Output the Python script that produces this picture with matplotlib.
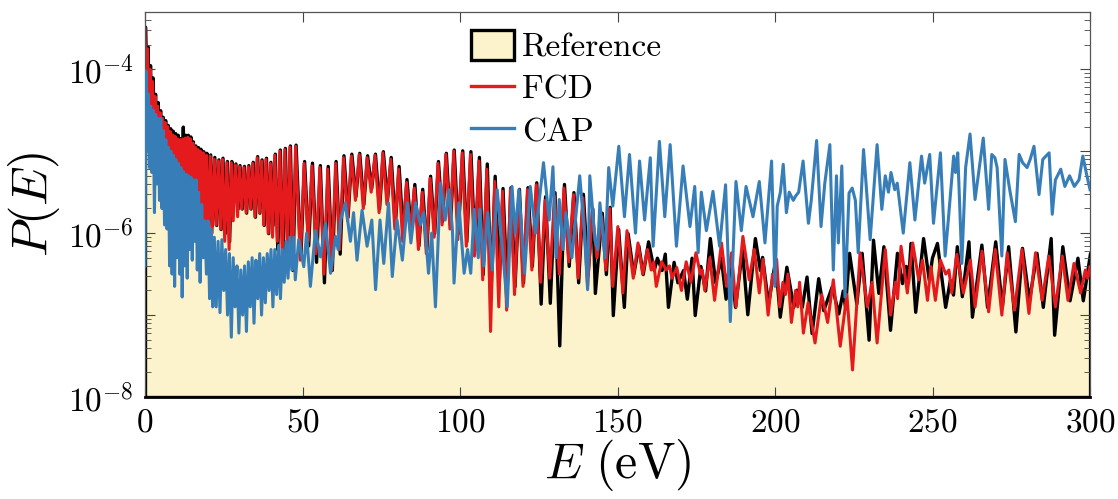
import numpy as np
import matplotlib as mpl
import matplotlib.pyplot as plt
from matplotlib.patches import Patch
from matplotlib.lines import Line2D
from matplotlib.ticker import FixedLocator, LogLocator, FixedFormatter

# computer modern look
mpl.rcParams['mathtext.fontset'] = 'cm'
mpl.rcParams['font.family'] = 'serif'
mpl.rcParams['font.serif'] = ['cmr10']
mpl.rcParams['axes.unicode_minus'] = False

# (energy in eV, log10 P(E)), one list per curve
ref_points = [
    (0.0, -3.48), (0.4, -4.25), (0.8, -3.72), (1.2, -4.45), (1.6, -3.95), (2.0, -4.6), (2.4, -4.1), (2.8, -4.7),
    (3.2, -4.3), (3.6, -4.85), (4.0, -4.4), (4.4, -5.0), (4.8, -4.5), (5.2, -5.1), (5.6, -4.58), (6.0, -5.2),
    (6.4, -4.62), (6.8, -5.3), (7.2, -4.68), (7.6, -5.4), (8.0, -4.72), (8.4, -5.6), (8.8, -4.75), (9.2, -5.5),
    (9.6, -4.78), (10.0, -5.6), (10.4, -4.8), (10.8, -5.1), (11.2, -4.84), (11.6, -5.2), (12.0, -4.7), (12.4, -5.3),
    (12.8, -4.8), (13.2, -5.7), (13.6, -4.8), (14.0, -5.8), (14.4, -4.82), (14.8, -5.7), (15.2, -4.88), (15.6, -5.9),
    (16.0, -4.93), (16.5, -6.08), (16.8, -4.95), (17.2, -6.0), (17.6, -4.97), (18.0, -6.1), (18.5, -5.0), (19.0, -5.95),
    (19.5, -5.02), (20.0, -6.0), (20.7, -5.04), (21.3, -5.9), (22.0, -5.07), (22.6, -5.9), (23.3, -5.1), (24.0, -5.95),
    (24.6, -5.08), (25.3, -6.0), (26.0, -5.12), (26.7, -6.1), (27.4, -5.12), (28.0, -5.6), (28.7, -5.15), (29.4, -5.7),
    (30.0, -5.17), (30.7, -5.7), (31.4, -5.18), (32.1, -5.75), (32.8, -5.17), (33.5, -5.7), (34.2, -5.13), (34.9, -5.8),
    (35.6, -5.06), (36.3, -5.75), (37.0, -5.1), (37.7, -5.9), (38.4, -5.08), (39.1, -6.0), (39.8, -5.13), (40.5, -5.9),
    (41.2, -5.03), (42.0, -6.2), (42.8, -4.98), (43.6, -6.3), (44.4, -4.96), (45.2, -6.2), (46.0, -4.93), (46.8, -6.45),
    (47.8, -4.92), (49.3, -6.3), (50.5, -5.12), (51.8, -6.15), (53.0, -5.14), (54.3, -6.35), (55.5, -5.17), (56.8, -6.6),
    (58.0, -5.18), (59.3, -6.45), (60.5, -5.12), (61.8, -6.25), (63.0, -5.05), (64.3, -5.8), (65.5, -5.03), (66.8, -5.55),
    (68.0, -5.02), (69.3, -5.65), (70.5, -5.05), (71.8, -5.45), (73.0, -5.03), (74.3, -5.7), (75.5, -5.0), (76.8, -5.6),
    (78.0, -5.07), (79.3, -5.9), (80.5, -5.18), (81.8, -6.0), (83.0, -5.34), (84.3, -5.95), (85.5, -5.4), (86.8, -6.15),
    (88.0, -5.46), (89.3, -6.2), (90.5, -5.3), (91.8, -6.0), (93.0, -5.12), (94.3, -5.85), (95.5, -5.02), (96.8, -5.9),
    (98.0, -4.98), (99.3, -6.0), (100.7, -4.99), (102.0, -6.1), (103.3, -5.0), (104.6, -6.2), (106.0, -5.07), (107.2, -6.5),
    (108.5, -5.15), (109.7, -6.7), (111.0, -5.3), (112.3, -6.6), (113.5, -5.45), (114.8, -6.7), (116.0, -5.44), (117.3, -6.65),
    (118.7, -5.46), (120.0, -6.6), (121.4, -5.44), (122.8, -6.4), (124.2, -5.38), (125.6, -6.86), (127.0, -5.55), (128.5, -6.85),
    (130.0, -5.5), (131.5, -7.37), (133.0, -5.4), (134.5, -6.4), (136.0, -5.5), (137.5, -6.6), (139.0, -5.52), (140.5, -6.5),
    (142.0, -5.7), (142.8, -6.73), (145.0, -5.75), (146.3, -6.5), (147.5, -5.68), (148.5, -7.0), (150.2, -5.95), (152.0, -6.9),
    (153.2, -6.0), (155.0, -6.5), (156.6, -6.15), (158.0, -6.5), (159.7, -6.1), (161.5, -6.45), (162.5, -6.3), (164.0, -6.45),
    (165.0, -6.25), (166.0, -6.9), (167.8, -6.35), (169.0, -6.6), (170.8, -6.45), (172.0, -6.8), (173.5, -6.3), (174.5, -7.0),
    (176.3, -6.4), (177.8, -6.7), (179.3, -6.06), (181.0, -6.6), (182.8, -6.3), (184.3, -6.8), (185.8, -6.35), (187.3, -6.9),
    (189.5, -6.2), (191.2, -6.99), (193.6, -6.06), (195.2, -6.45), (195.9, -6.29), (197.8, -6.86), (200.0, -6.33), (201.5, -7.02),
    (203.6, -6.41), (205.8, -6.9), (206.8, -6.69), (208.5, -6.9), (210.0, -6.53), (211.6, -7.22), (213.7, -6.55), (215.3, -6.94),
    (218.0, -6.65), (220.1, -6.98), (221.5, -6.7), (222.2, -6.9), (223.5, -6.24), (225.8, -6.86), (227.5, -6.24), (229.7, -7.3),
    (231.1, -6.08), (232.8, -6.73), (234.4, -6.16), (236.5, -7.18), (238.7, -6.24), (240.3, -6.61), (241.5, -6.4), (242.2, -6.6),
    (243.0, -6.12), (244.5, -6.96), (247.0, -6.06), (248.8, -6.57), (249.8, -6.3), (251.4, -6.12), (254.0, -6.9), (255.5, -6.57),
    (256.5, -6.75), (257.7, -6.16), (259.3, -6.77), (261.4, -6.1), (262.5, -7.02), (265.5, -6.14), (267.3, -6.9), (269.9, -6.1),
    (272.0, -6.9), (274.0, -6.16), (276.3, -7.2), (278.4, -6.18), (280.6, -6.82), (283.0, -6.24), (285.0, -6.9), (287.5, -6.06),
    (288.6, -7.24), (291.2, -6.16), (293.5, -6.82), (296.0, -6.3), (297.7, -6.82), (300.0, -6.24),
]

fcd_points = [
    (0.0, -3.5), (0.4, -4.3), (0.8, -3.75), (1.2, -4.5), (1.6, -4.0), (2.0, -4.7), (2.4, -4.15), (2.8, -4.8),
    (3.2, -4.33), (3.6, -4.9), (4.0, -4.45), (4.4, -5.0), (4.8, -4.53), (5.2, -5.1), (5.6, -4.6), (6.0, -5.2),
    (6.4, -4.65), (6.8, -5.3), (7.2, -4.7), (7.6, -5.4), (8.0, -4.76), (8.4, -6.35), (8.8, -4.8), (9.2, -5.5),
    (9.6, -4.82), (10.0, -5.6), (10.4, -4.85), (10.8, -5.6), (11.2, -4.86), (11.6, -5.7), (12.0, -4.85), (12.4, -5.6),
    (12.8, -4.84), (13.2, -5.7), (13.6, -4.83), (14.0, -5.8), (14.4, -4.85), (14.8, -5.7), (15.2, -4.9), (15.6, -5.9),
    (16.0, -4.95), (16.4, -5.8), (16.8, -4.98), (17.2, -6.0), (17.6, -5.0), (18.0, -6.3), (18.5, -5.02), (19.0, -5.95),
    (19.5, -5.05), (20.0, -6.1), (20.7, -5.06), (21.3, -6.0), (22.0, -5.1), (22.6, -5.9), (23.3, -5.12), (24.0, -5.95),
    (24.6, -5.1), (25.3, -6.1), (26.0, -5.14), (26.7, -6.2), (27.4, -5.14), (28.0, -5.85), (28.7, -5.17), (29.4, -5.8),
    (30.0, -5.19), (30.7, -5.7), (31.4, -5.2), (32.1, -5.75), (32.8, -5.19), (33.5, -5.7), (34.2, -5.15), (34.9, -5.8),
    (35.6, -5.08), (36.3, -5.75), (37.0, -5.12), (37.7, -5.9), (38.4, -5.1), (39.1, -6.0), (39.8, -5.15), (40.5, -6.05),
    (41.2, -5.05), (42.0, -6.1), (42.8, -5.0), (43.6, -6.3), (44.4, -4.98), (45.2, -6.2), (46.0, -4.95), (46.8, -6.4),
    (47.8, -4.94), (49.3, -6.33), (50.5, -5.15), (51.8, -6.1), (53.0, -5.18), (54.3, -6.25), (55.5, -5.2), (56.8, -6.5),
    (58.0, -5.22), (59.3, -6.45), (60.5, -5.15), (61.8, -6.2), (63.0, -5.08), (64.3, -5.85), (65.5, -5.06), (66.8, -5.6),
    (68.0, -5.04), (69.3, -5.7), (70.5, -5.08), (71.8, -5.5), (73.0, -5.05), (74.3, -5.75), (75.5, -5.02), (76.8, -5.65),
    (78.0, -5.1), (79.3, -5.95), (80.5, -5.22), (81.8, -6.1), (83.0, -5.38), (84.3, -6.0), (85.5, -5.45), (86.8, -6.2),
    (88.0, -5.5), (89.3, -6.25), (90.5, -5.33), (91.8, -6.05), (93.0, -5.15), (94.3, -5.9), (95.5, -5.04), (96.8, -5.95),
    (98.0, -5.0), (99.3, -6.08), (100.7, -5.02), (102.0, -6.16), (103.3, -5.04), (104.6, -6.28), (106.0, -5.12), (107.2, -6.57),
    (108.5, -5.22), (109.7, -7.2), (111.0, -5.37), (112.3, -6.9), (113.5, -5.49), (114.8, -6.94), (116.0, -5.47), (117.3, -6.75),
    (118.7, -5.49), (120.0, -6.65), (121.4, -5.47), (122.8, -6.45), (124.2, -5.41), (125.6, -6.6), (127.0, -5.6), (128.5, -6.55),
    (130.0, -5.55), (131.5, -6.5), (133.0, -5.45), (134.5, -6.35), (136.0, -5.53), (137.5, -6.55), (139.0, -5.57), (140.5, -6.65),
    (142.0, -5.75), (143.5, -6.3), (145.0, -5.8), (146.3, -6.45), (147.5, -5.7), (148.5, -6.65), (150.1, -5.92), (151.7, -6.73),
    (153.0, -5.97), (155.0, -6.55), (156.5, -6.12), (158.0, -6.5), (159.5, -6.2), (160.7, -6.45), (161.5, -6.35), (162.3, -6.65),
    (164.0, -6.35), (165.5, -6.45), (166.5, -6.4), (167.3, -6.55), (168.8, -6.42), (170.3, -6.7), (171.8, -6.35), (173.3, -6.6),
    (174.9, -6.24), (176.3, -6.5), (176.9, -6.45), (177.7, -6.7), (179.3, -6.3), (180.8, -6.82), (183.0, -6.12), (184.6, -6.65),
    (186.2, -6.24), (187.6, -6.9), (189.8, -6.04), (191.8, -6.57), (193.4, -6.2), (195.0, -6.73), (196.2, -6.32), (197.8, -7.0),
    (199.2, -6.5), (199.8, -6.6), (200.5, -6.32), (201.5, -6.9), (202.5, -6.6), (203.3, -6.75), (204.1, -6.5), (205.2, -7.09),
    (206.5, -6.7), (207.2, -6.9), (207.8, -6.6), (209.0, -7.22), (210.5, -6.85), (212.7, -7.34), (214.8, -6.75), (216.7, -7.09),
    (218.5, -6.57), (220.7, -7.38), (222.8, -6.75), (224.6, -7.67), (227.0, -6.24), (229.3, -6.9), (230.8, -6.6), (232.4, -7.34),
    (235.0, -6.2), (236.7, -7.0), (238.2, -6.6), (238.9, -6.8), (240.0, -6.16), (242.0, -6.73), (243.7, -6.12), (245.6, -6.57),
    (246.8, -6.33), (248.4, -6.82), (249.5, -6.41), (250.9, -6.82), (252.5, -6.33), (254.2, -6.5), (255.2, -6.45), (256.1, -6.73),
    (257.7, -6.26), (259.8, -6.73), (262.0, -6.33), (263.5, -6.9), (265.7, -6.22), (267.8, -6.96), (269.9, -6.2), (272.0, -7.0),
    (273.7, -6.24), (276.0, -6.94), (278.4, -6.2), (280.6, -6.98), (282.7, -6.24), (284.8, -6.82), (286.9, -6.28), (289.0, -6.9),
    (291.2, -6.28), (293.0, -6.82), (294.9, -6.37), (297.0, -6.73), (298.5, -6.45), (299.2, -6.55), (300.0, -6.41),
]

cap_points = [
    (0.0, -6.4), (0.3, -4.02), (0.7, -5.0), (1.0, -4.3), (1.4, -5.2), (1.8, -4.45), (2.2, -5.26), (2.6, -4.5),
    (3.0, -5.75), (3.4, -4.55), (3.8, -5.4), (4.2, -4.6), (4.6, -5.6), (5.0, -4.6), (5.4, -5.7), (5.8, -4.75),
    (6.2, -5.9), (6.6, -4.86), (7.0, -5.95), (7.4, -4.95), (7.8, -6.4), (8.2, -5.0), (8.6, -6.5), (9.0, -5.05),
    (9.4, -6.65), (9.8, -5.1), (10.2, -6.3), (10.6, -5.15), (11.0, -6.5), (11.4, -5.2), (11.8, -6.78), (12.2, -5.25),
    (12.6, -6.4), (13.0, -5.28), (13.4, -6.55), (13.8, -5.3), (14.2, -6.2), (14.6, -5.32), (15.0, -6.33), (15.4, -5.35),
    (15.8, -6.1), (16.2, -5.35), (16.6, -6.45), (17.0, -5.5), (17.5, -6.6), (18.0, -5.65), (18.5, -6.3), (19.0, -5.85),
    (19.5, -6.5), (20.0, -5.85), (20.5, -6.8), (21.0, -5.95), (21.5, -6.9), (22.0, -6.05), (22.6, -6.9), (23.2, -6.1),
    (23.8, -6.97), (24.4, -6.08), (25.0, -6.7), (25.6, -6.2), (26.2, -7.0), (26.8, -6.25), (27.4, -7.27), (28.0, -6.3),
    (28.6, -6.9), (29.2, -6.4), (29.8, -7.22), (30.4, -6.45), (31.0, -7.0), (31.6, -6.4), (32.2, -7.2), (32.8, -6.35),
    (33.4, -6.9), (34.0, -6.3), (34.6, -7.1), (35.2, -6.33), (35.8, -6.8), (36.4, -6.25), (37.0, -7.0), (37.6, -6.3),
    (38.2, -6.85), (38.8, -6.25), (39.4, -6.7), (40.0, -6.2), (40.6, -6.9), (41.2, -6.2), (41.8, -6.75), (42.4, -6.15),
    (43.0, -6.8), (43.6, -6.2), (44.2, -6.6), (44.8, -6.1), (45.4, -6.55), (46.0, -6.05), (46.6, -6.45), (47.2, -6.05),
    (47.7, -6.57), (48.8, -6.08), (50.4, -6.41), (51.3, -6.0), (52.5, -6.65), (54.1, -5.97), (55.7, -6.29), (57.3, -5.88),
    (58.9, -6.49), (60.5, -6.04), (61.3, -6.2), (62.1, -5.84), (63.6, -5.63), (65.2, -6.1), (66.2, -5.75), (67.3, -6.33),
    (68.9, -5.72), (70.5, -6.16), (72.0, -5.84), (73.2, -6.69), (74.6, -5.84), (75.8, -6.37), (77.3, -5.63), (78.5, -6.53),
    (80.0, -5.84), (81.7, -6.33), (83.3, -5.63), (84.4, -6.12), (85.9, -5.63), (87.4, -5.9), (88.5, -5.75), (90.0, -6.49),
    (91.0, -6.0), (92.2, -6.9), (93.8, -5.39), (95.3, -5.84), (96.5, -5.47), (97.6, -5.97), (98.1, -6.61), (99.6, -5.63),
    (101.3, -6.49), (102.4, -6.2), (103.4, -6.49), (104.5, -5.71), (105.8, -6.3), (106.3, -5.71), (107.5, -6.4), (108.8, -5.75),
    (110.2, -6.45), (111.8, -5.47), (113.5, -6.2), (115.0, -6.9), (116.5, -5.43), (117.5, -6.0), (118.7, -5.47), (120.5, -6.49),
    (122.3, -5.43), (124.0, -6.0), (126.5, -5.14), (128.3, -5.84), (129.5, -5.19), (130.5, -6.3), (131.5, -5.59), (132.7, -6.2),
    (133.6, -5.75), (135.5, -6.3), (138.0, -5.3), (139.5, -6.0), (140.5, -6.69), (141.2, -5.3), (142.9, -6.1), (143.7, -6.2),
    (144.4, -5.63), (146.0, -6.3), (147.2, -5.2), (148.5, -5.67), (150.4, -4.94), (152.2, -5.8), (153.8, -5.04), (155.7, -6.0),
    (157.0, -5.12), (158.6, -5.84), (160.4, -5.08), (161.3, -6.16), (163.3, -4.88), (165.0, -5.8), (166.7, -4.92), (168.7, -6.16),
    (170.8, -5.18), (173.0, -5.92), (174.5, -5.43), (175.6, -6.24), (176.6, -5.5), (178.2, -5.97), (180.3, -5.49), (182.4, -6.16),
    (184.3, -5.41), (185.8, -7.08), (187.6, -5.37), (189.3, -5.97), (190.8, -5.43), (193.0, -5.8), (195.0, -5.37), (196.8, -6.12),
    (198.9, -5.12), (200.0, -6.65), (200.7, -5.67), (201.7, -5.5), (202.6, -5.16), (203.6, -5.75), (204.5, -5.5), (205.8, -5.6),
    (206.5, -5.55), (207.5, -5.5), (208.9, -5.12), (210.6, -5.88), (211.5, -5.6), (213.2, -4.87), (214.6, -5.92), (215.8, -5.39),
    (217.4, -4.92), (218.5, -6.45), (219.5, -5.3), (220.1, -6.12), (221.2, -5.18), (222.2, -6.78), (223.5, -5.51), (224.5, -5.45),
    (225.5, -5.6), (226.4, -6.24), (228.1, -4.98), (230.2, -6.08), (232.4, -4.92), (233.9, -5.71), (235.0, -5.3), (236.0, -5.5),
    (236.8, -5.26), (238.0, -5.47), (238.8, -5.39), (240.7, -6.0), (242.8, -5.14), (244.4, -5.84), (246.5, -5.06), (247.5, -5.39),
    (249.1, -5.04), (250.3, -5.88), (252.5, -5.02), (254.0, -6.28), (255.0, -5.84), (256.7, -5.06), (257.3, -5.26), (258.0, -5.02),
    (259.3, -6.37), (260.5, -5.2), (261.9, -4.79), (263.5, -5.59), (264.5, -5.3), (266.1, -4.84), (267.8, -5.71), (268.8, -5.04),
    (269.8, -5.08), (270.5, -5.2), (272.0, -6.28), (273.0, -5.1), (274.5, -5.47), (276.3, -5.86), (277.5, -5.04), (278.6, -5.14),
    (280.0, -5.2), (281.0, -5.1), (282.2, -4.94), (283.8, -5.53), (285.0, -5.1), (287.0, -5.02), (288.0, -5.77), (289.0, -5.35),
    (290.7, -5.22), (292.0, -5.43), (293.5, -5.3), (295.0, -5.43), (296.5, -5.35), (297.7, -5.06), (299.0, -5.3), (300.0, -5.47),
]

ref_e, ref_lp = np.array(ref_points).T
fcd_e, fcd_lp = np.array(fcd_points).T
cap_e, cap_lp = np.array(cap_points).T

x_ticks = [0, 50, 100, 150, 200, 250, 300]
y_decades = [1e-8, 1e-7, 1e-6, 1e-5, 1e-4]
y_labels = [r'$10^{-8}$', '', r'$10^{-6}$', '', r'$10^{-4}$']

cream = '#fcf3cc'
red = '#e41a1c'
blue = '#377eb8'

fig = plt.figure(figsize=(11.18, 4.99), dpi=100)
ax = fig.add_axes([0.1297, 0.2044, 0.8453, 0.7716])

# reference as a filled area, then the two methods on top
ax.fill_between(ref_e, 10 ** ref_lp, 1e-8, facecolor=cream, edgecolor='k', linewidth=2.4, zorder=1)
ax.plot(fcd_e, 10 ** fcd_lp, color=red, linewidth=2.2, zorder=2)
ax.plot(cap_e, 10 ** cap_lp, color=blue, linewidth=2.2, zorder=3)

ax.set_yscale('log')
ax.set_xlim(0, 300)
ax.set_ylim(1e-8, 5e-4)

ax.xaxis.set_major_locator(FixedLocator(x_ticks))
ax.set_xticklabels([r'$%d$' % t for t in x_ticks])
ax.yaxis.set_major_locator(FixedLocator(y_decades))
ax.yaxis.set_major_formatter(FixedFormatter(y_labels))
ax.yaxis.set_minor_locator(LogLocator(base=10, subs=np.arange(2, 10), numticks=20))
ax.yaxis.set_minor_formatter(FixedFormatter([]))

ax.tick_params(which='both', direction='in', top=True, right=True, labelsize=24, pad=8, color='#444444')
ax.tick_params(which='major', length=7, width=0.8)
ax.tick_params(which='minor', length=4, width=0.6)
for s in ['top', 'right', 'left']:
    ax.spines[s].set_color('#555555')
    ax.spines[s].set_linewidth(0.9)
ax.spines['bottom'].set_linewidth(2.0)

ax.set_xlabel(r'$E\ (\mathrm{eV})$', fontsize=36, labelpad=0)
ax.set_ylabel(r'$P(E)$', fontsize=36)
ax.yaxis.set_label_coords(-0.088, 0.5)

handles = [Patch(facecolor=cream, edgecolor='k', linewidth=2.4),
           Line2D([], [], color=red, linewidth=2.4),
           Line2D([], [], color=blue, linewidth=2.4)]
fig.legend(handles, ['Reference', 'FCD', 'CAP'], loc='upper left',
           bbox_to_anchor=(471 / 1118, 1 - 30 / 499), frameon=False, fontsize=24,
           handlelength=1.3, handleheight=1.0, handletextpad=0.22, labelspacing=0.3,
           borderpad=0, borderaxespad=0)

fig.savefig('out.png', dpi=100)
